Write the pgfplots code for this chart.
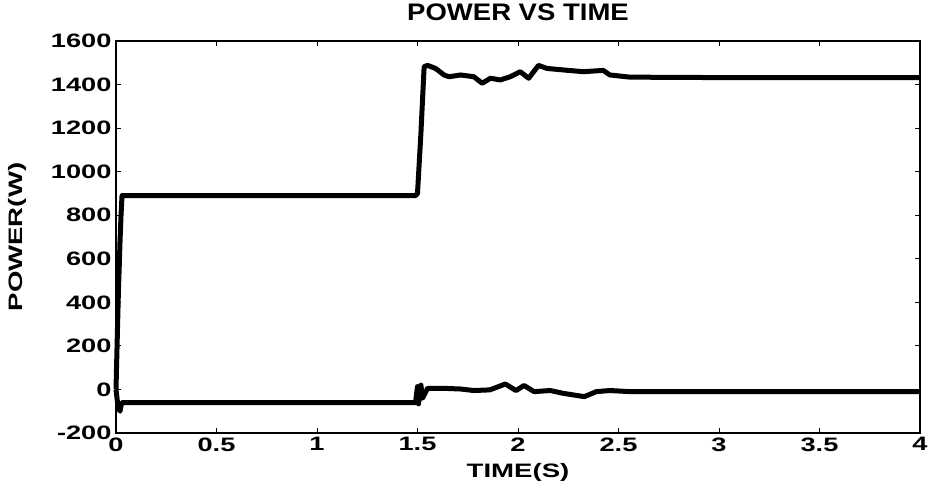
\documentclass[border=0pt]{standalone}
\usepackage{fontspec}
\setmainfont{Liberation Sans}
\newfontfamily\tickfont[FakeStretch=1.4]{Liberation Sans}
\newfontfamily\labfont[FakeStretch=1.42]{Liberation Sans}
\newfontfamily\titfont[FakeStretch=1.15]{Liberation Sans}
\usepackage{pgfplots}
\pgfplotsset{compat=1.18}

\begin{document}
\begin{tikzpicture}[x=1bp,y=1bp]
\begin{axis}[
    name=ax,
    scale only axis,
    width=804bp, height=392bp,
    xmin=0, xmax=4,
    ymin=-200, ymax=1600,
    xtick={0,0.5,...,4},
    ytick={-200,0,...,1600},
    tick align=inside,
    major tick length=5bp,
    axis line style={line width=1.2bp},
    tick style={line width=0.8bp, black},
    /pgf/number format/assume math mode=true,
    /pgf/number format/1000 sep={},
    every tick label/.append style={font=\tickfont\bfseries\fontsize{19.5}{19.5}\selectfont},
    xticklabel style={yshift=-1bp},
    yticklabel style={xshift=-1bp},
    title={\bfseries POWER VS TIME},
    title style={font=\titfont\fontsize{24}{24}\selectfont, at={(axis description cs:0.5,1.0587)}, anchor=center},
    xlabel={\bfseries TIME(S)},
    xlabel style={font=\labfont\fontsize{19.5}{19.5}\selectfont, at={(axis description cs:0.5,-0.1000)}, anchor=center},
    ylabel={\bfseries POWER(W)},
    ylabel style={font=\labfont\fontsize{19.5}{19.5}\selectfont, at={(axis description cs:-0.122,0.5)}, anchor=center},
    clip=false,
]
% upper trace
\addplot[black, line width=5bp, line join=round] coordinates {
(0,0)(0.004,150)(0.008,300)(0.012,450)(0.016,560)(0.02,680)(0.025,800)(0.03,890)
(0.5,890)(1,890)(1.49,890)(1.50,900)(1.517,1177)(1.533,1482)(1.55,1488)(1.59,1474)
(1.632,1444)(1.657,1436)(1.715,1444)(1.78,1436)(1.822,1406)(1.863,1429)(1.912,1421)
(1.962,1436)(2.011,1459)(2.053,1429)(2.102,1488)(2.144,1474)(2.226,1467)(2.325,1459)
(2.424,1465)(2.457,1444)(2.556,1434)(3,1432)(3.5,1432)(4,1432)
};
% lower trace
\addplot[black, line width=5bp, line join=round] coordinates {
(0,0)(0.005,-40)(0.01,-80)(0.02,-100)(0.025,-75)(0.03,-60)
(0.5,-60)(1,-60)(1.49,-60)(1.50,13)(1.505,-66)(1.51,-20)(1.517,20)(1.525,-40)(1.55,5)
(1.632,5)(1.715,2)(1.78,-5)(1.86,-2)(1.937,25)(1.99,-5)(2.03,18)(2.08,-10)
(2.16,-5)(2.226,-18)(2.33,-33)(2.39,-10)(2.457,-5)(2.556,-10)(3,-10)(3.5,-10)(4,-10)
};
\end{axis}
\pgfresetboundingbox
\path[use as bounding box] ([xshift=-116bp,yshift=-52bp]ax.south west) rectangle ([xshift=10bp,yshift=41bp]ax.north east);
\end{tikzpicture}
\end{document}
